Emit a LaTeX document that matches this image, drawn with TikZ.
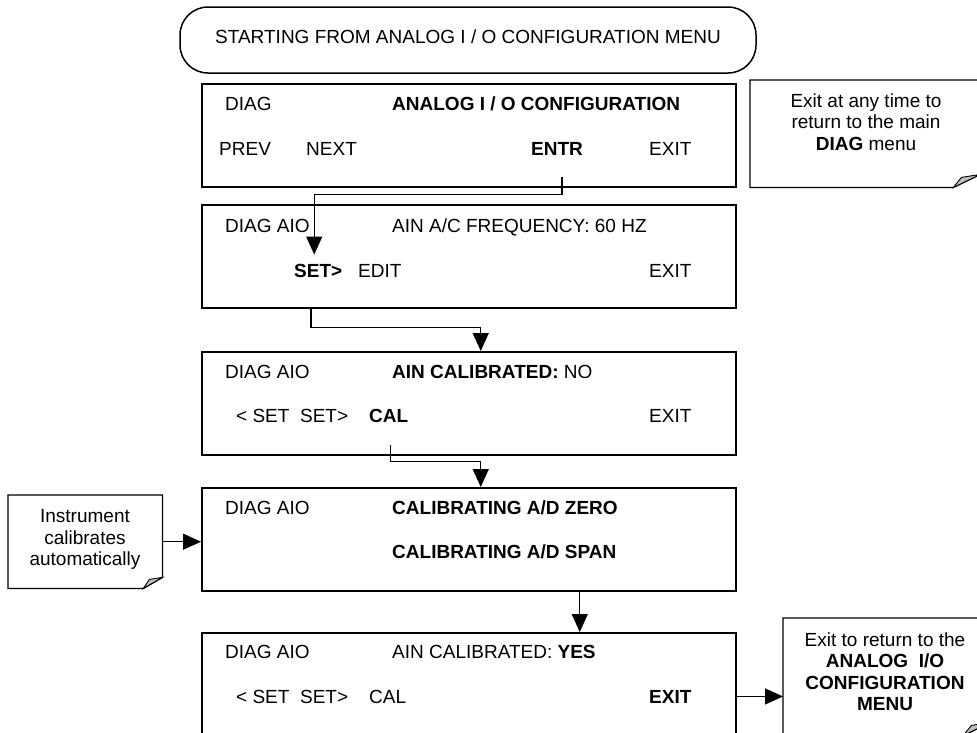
\documentclass[tikz,border=0pt]{standalone}
\usepackage{fontspec}
\setmainfont{Liberation Sans}
\usepackage{tikz}
\usetikzlibrary{arrows.meta,calc}

\begin{document}
\begin{tikzpicture}[
    x=1pt, y=-1pt,
    font=\fontsize{19}{21.5}\selectfont,
    panel/.style={draw, line width=1.5pt, anchor=north west, minimum width=534pt, minimum height=103pt, inner sep=0pt},
    notebox/.style={anchor=north west, inner sep=0pt},
    lbl/.style={anchor=base west, inner sep=0pt},
    notetxt/.style={anchor=north, align=center, inner sep=0pt},
    edge/.style={line width=1.3pt, line join=miter},
    curl/.style={line width=0.9pt, fill=black!25},
    arr/.style={-{Triangle[length=18pt,width=16pt]}, line width=1.3pt}
]
\useasboundingbox (0,0) rectangle (977,732);

\node[draw, line width=1.5pt, rounded corners=28pt, minimum width=576pt, minimum height=66pt, inner sep=0pt, text depth=7.5pt] (start) at (468,40) {STARTING FROM ANALOG I / O CONFIGURATION MENU};

\node[panel] (p1) at (201,83) {};
\node[lbl] (d1) at (225,110) {DIAG};
\node[lbl] (t1) at (392,110) {\textbf{ANALOG I / O CONFIGURATION}};
\node[lbl] (prev) at (219,155) {PREV};
\node[lbl] (next) at (306,155) {NEXT};
\node[lbl] (entr) at (531,155) {\textbf{ENTR}};
\node[lbl] (exit1) at (649,155) {EXIT};

\node[panel] (p2) at (201,204) {};
\node[lbl] (d2) at (225,232) {DIAG AIO};
\node[lbl] (t2) at (392,232) {AIN A/C FREQUENCY: 60 HZ};
\node[lbl] (set) at (294,277) {\textbf{SET>}};
\node[lbl] (edit) at (358,277) {EDIT};
\node[lbl] (exit2) at (649,277) {EXIT};

\node[panel] (p3) at (201,351) {};
\node[lbl] (d3) at (225,378) {DIAG AIO};
\node[lbl] (t3) at (392,378) {\textbf{AIN CALIBRATED:} NO};
\node[lbl] (sets3) at (236,422) {< SET\ \ SET>};
\node[lbl] (cal) at (369,422) {\textbf{CAL}};
\node[lbl] (exit3) at (649,422) {EXIT};

\node[panel] (p4) at (201,487) {};
\node[lbl] (d4) at (225,514) {DIAG AIO};
\node[lbl] (zero) at (392,514) {\textbf{CALIBRATING A/D ZERO}};
\node[lbl] (span) at (392,558) {\textbf{CALIBRATING A/D SPAN}};

\node[panel] (p5) at (201,632) {};
\node[lbl] (d5) at (225,658) {DIAG AIO};
\node[lbl] (t5) at (392,658) {AIN CALIBRATED: \textbf{YES}};
\node[lbl] (sets5) at (236,703) {< SET\ \ SET>};
\node[lbl] (cal5) at (369,703) {CAL};
\node[lbl] (exit5) at (649,703) {\textbf{EXIT}};

\node[notebox, minimum width=230pt, minimum height=107pt] (tip1) at (750,80) {};
\draw[edge] (tip1.north west) -- (tip1.north east) -- ([yshift=13pt]tip1.south east) -- ([xshift=-27pt]tip1.south east) -- (tip1.south west) -- cycle;
\draw[curl] ([xshift=-27pt]tip1.south east) -- ([xshift=-19pt,yshift=10pt]tip1.south east) -- ([yshift=13pt]tip1.south east) -- cycle;
\node[notetxt] (tip1txt) at (866,93.4) {Exit at any time to\\return to the main\\\textbf{DIAG} menu};

\node[notebox, minimum width=154pt, minimum height=93pt] (tip2) at (8,495) {};
\draw[edge] (tip2.north west) -- (tip2.north east) -- ([yshift=11pt]tip2.south east) -- ([xshift=-19pt]tip2.south east) -- (tip2.south west) -- cycle;
\draw[curl] ([xshift=-19pt]tip2.south east) -- ([xshift=-13pt,yshift=9pt]tip2.south east) -- ([yshift=11pt]tip2.south east) -- cycle;
\node[notetxt] (tip2txt) at (85,509.4) {Instrument\\calibrates\\automatically};

\node[notebox, minimum width=207pt, minimum height=117pt] (tip3) at (783,618) {};
\draw[edge] (tip3.north west) -- (tip3.north east) -- ([yshift=13pt]tip3.south east) -- ([xshift=-27pt]tip3.south east) -- (tip3.south west) -- cycle;
\draw[curl] ([xshift=-27pt]tip3.south east) -- ([xshift=-19pt,yshift=10pt]tip3.south east) -- ([yshift=13pt]tip3.south east) -- cycle;
\node[notetxt] (tip3txt) at (885,632.4) {Exit to return to the\\\textbf{ANALOG\ \ I/O}\\\textbf{CONFIGURATION}\\\textbf{MENU}};

\draw[arr] ([xshift=5pt,yshift=-22pt]entr.south) -- ++(0,17) -| ([xshift=-4pt,yshift=9pt]set.north);
\draw[arr] ([xshift=110pt]p2.south west) -- ++(0,19) -| ([xshift=12pt]p3.north);
\draw[arr] ([xshift=1.5pt,yshift=-23pt]cal.south) -- ++(0,16) -| ([xshift=12pt]p4.north);
\draw[arr] ([xshift=111pt]p4.south) -- ([xshift=111pt]p5.north);
\draw[arr] (tip2.east) -- (tip2.east -| p4.west);
\draw[arr] (p5.east |- exit5) -- (tip3.west |- exit5);
\end{tikzpicture}
\end{document}
